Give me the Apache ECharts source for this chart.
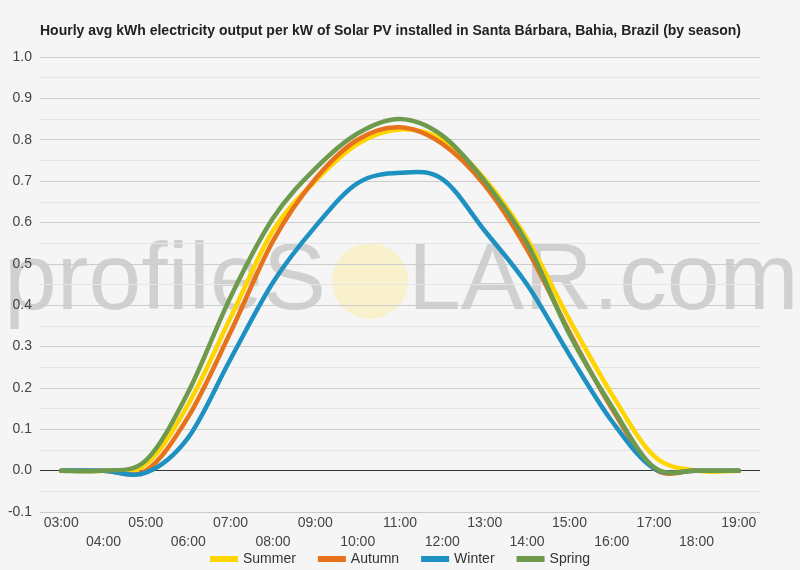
<!DOCTYPE html>
<html>
<head>
<meta charset="utf-8">
<script src="https://cdn.jsdelivr.net/npm/echarts@6/dist/echarts.min.js"></script>
<style>
  html, body { margin: 0; padding: 0; background: #f5f5f5; }
  #chart { width: 800px; height: 570px; }
</style>
</head>
<body>
<div id="chart"></div>
<script>
// hourly values
const hours = ['03:00', '04:00', '05:00', '06:00', '07:00', '08:00', '09:00', '10:00', '11:00',
  '12:00', '13:00', '14:00', '15:00', '16:00', '17:00', '18:00', '19:00'];
const summer = [0, 0, 0.015, 0.16, 0.37, 0.58, 0.70, 0.79, 0.825, 0.80, 0.705, 0.56, 0.365, 0.185, 0.035, 0, 0];
const autumn = [0, 0, 0, 0.13, 0.335, 0.555, 0.705, 0.80, 0.83, 0.79, 0.69, 0.535, 0.335, 0.15, 0.005, 0, 0];
const winter = [0, 0, -0.005, 0.08, 0.27, 0.455, 0.59, 0.695, 0.72, 0.705, 0.58, 0.45, 0.28, 0.12, 0.005, 0, 0];
const spring = [0, 0, 0.025, 0.19, 0.42, 0.61, 0.73, 0.815, 0.85, 0.81, 0.70, 0.55, 0.33, 0.155, 0.008, 0, 0];
const seasonNames = ['Summer', 'Autumn', 'Winter', 'Spring'];
const seasonColors = ['#FFD500', '#E8721C', '#1C91C2', '#6E9A4D'];

const chartDom = document.getElementById('chart');
const myChart = echarts.init(chartDom);
const font = 'Arial, "Liberation Sans", sans-serif';

// smooth curve through the points (catmull-rom), positions from the axes
function curveRenderer(values, color) {
  return function (params, api) {
    if (params.dataIndex !== 0) return null;
    const pts = values.map(function (v, i) { return api.coord([i, v]); });
    const n = pts.length;
    let d = 'M' + pts[0][0] + ' ' + pts[0][1];
    for (let i = 0; i < n - 1; i++) {
      const p0 = pts[Math.max(i - 1, 0)];
      const p1 = pts[i];
      const p2 = pts[i + 1];
      const p3 = pts[Math.min(i + 2, n - 1)];
      const c1x = p1[0] + (p2[0] - p0[0]) / 6;
      const c1y = p1[1] + (p2[1] - p0[1]) / 6;
      const c2x = p2[0] - (p3[0] - p1[0]) / 6;
      const c2y = p2[1] - (p3[1] - p1[1]) / 6;
      d += ' C' + c1x + ' ' + c1y + ' ' + c2x + ' ' + c2y + ' ' + p2[0] + ' ' + p2[1];
    }
    return {
      type: 'path',
      shape: { pathData: d },
      style: { fill: 'none', stroke: color, lineWidth: 4.5, lineJoin: 'round', lineCap: 'round' }
    };
  };
}

const seriesData = [summer, autumn, winter, spring];
const series = seriesData.map(function (d, i) {
  const s = {
    name: seasonNames[i],
    type: 'custom',
    clip: false,
    data: d.map(function (v, j) { return [j, v]; }),
    renderItem: curveRenderer(d, seasonColors[i]),
    itemStyle: { color: seasonColors[i] },
    z: 3 + i
  };
  if (i === 0) {
    // dark baseline at zero
    s.markLine = {
      silent: true,
      symbol: 'none',
      label: { show: false },
      lineStyle: { color: '#333', width: 1, type: 'solid' },
      data: [{ yAxis: 0 }],
      z: 1
    };
  }
  return s;
});

const option = {
  backgroundColor: '#f5f5f5',
  animation: false,
  textStyle: { fontFamily: font },
  title: {
    text: 'Hourly avg kWh electricity output per kW of Solar PV installed in Santa Bárbara, Bahia, Brazil (by season)',
    left: 35,
    top: 19,
    textStyle: { fontSize: 14, fontWeight: 'bold', color: '#222', fontFamily: font }
  },
  legend: {
    data: seasonNames,
    top: 547,
    left: 'center',
    icon: 'rect',
    itemWidth: 28,
    itemHeight: 6,
    itemGap: 22,
    textStyle: { fontSize: 14, color: '#333', fontFamily: font }
  },
  grid: { left: 40, right: 40, top: 57, bottom: 58 },
  graphic: [
    {
      type: 'text',
      left: 4,
      top: 235,
      z: 0,
      silent: true,
      style: { text: 'profileS', font: '95px Arial, "Liberation Sans", sans-serif', fill: 'rgba(0,0,0,0.15)' }
    },
    {
      type: 'circle',
      shape: { cx: 370, cy: 281, r: 38 },
      z: 0,
      silent: true,
      style: { fill: 'rgba(255,236,140,0.4)' }
    },
    {
      type: 'text',
      left: 408,
      top: 235,
      z: 0,
      silent: true,
      style: { text: 'LAR.com', font: '95px Arial, "Liberation Sans", sans-serif', fill: 'rgba(0,0,0,0.15)' }
    }
  ],
  xAxis: {
    type: 'category',
    boundaryGap: true,
    data: hours,
    axisLine: { show: false },
    axisTick: { show: false },
    axisLabel: {
      interval: 0,
      margin: 2,
      fontSize: 14,
      lineHeight: 19,
      color: '#444',
      formatter: function (v, i) { return i % 2 ? '\n' + v : v; }
    }
  },
  yAxis: {
    type: 'value',
    min: -0.1,
    max: 1.0,
    interval: 0.1,
    axisLine: { show: false },
    axisTick: { show: false },
    axisLabel: {
      fontSize: 14,
      color: '#444',
      margin: 8,
      formatter: function (v) { return v.toFixed(1); }
    },
    splitLine: { lineStyle: { color: '#cccccc', width: 1 } },
    minorTick: { show: false, splitNumber: 2 },
    minorSplitLine: { show: true, lineStyle: { color: '#e6e6e6', width: 1 } }
  },
  series: series
};

option && myChart.setOption(option);
window.addEventListener('resize', function () {
  myChart.resize();
});
</script>
</body>
</html>
